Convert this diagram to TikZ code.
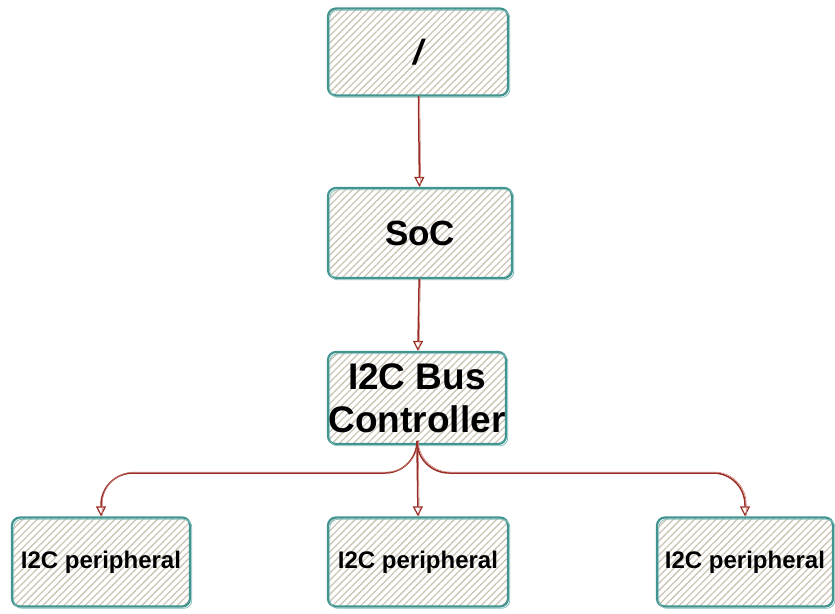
\documentclass[tikz,border=0pt]{standalone}
\usepackage{fontspec}
\setmainfont{Liberation Sans}
\usetikzlibrary{arrows.meta,patterns.meta}

\definecolor{boxedge}{RGB}{66,148,144}
\definecolor{boxedgelight}{RGB}{130,190,186}
\definecolor{hatch}{RGB}{205,196,182}
\definecolor{wire}{RGB}{152,45,38}
\definecolor{wirelight}{RGB}{200,120,110}

\tikzset{
  sketchbox/.style={
    rounded corners=8pt, line width=2.2pt, draw=boxedge,
    pattern={Lines[angle=45,distance=5pt,line width=1.3pt]},
    pattern color=hatch,
    inner sep=0pt, align=center, font=\bfseries,
    postaction={draw=boxedgelight, line width=0.8pt,
      transform canvas={shift={(1.8pt,-1.8pt)}}}
  },
  bigtext/.style={font=\bfseries\fontsize{35}{42}\selectfont},
  smalltext/.style={font=\bfseries\fontsize{24}{28}\selectfont},
  link/.style={draw=wire, line width=1.5pt,
    -{Triangle[open,length=10pt,width=10pt,line width=1.2pt]},
    postaction={draw=wirelight, line width=0.6pt, -,
      transform canvas={shift={(1.2pt,0.9pt)}}}}
}

\begin{document}
\begin{tikzpicture}[x=1pt,y=-1pt]
  \useasboundingbox (0,0) rectangle (835,613);

  % boxes
  \node[sketchbox, minimum width=180pt, minimum height=87pt,
        font=\bfseries\itshape\fontsize{35}{42}\selectfont] (top) at (418,52) {/};
  \node[sketchbox, minimum width=184pt, minimum height=90pt, bigtext] (soc) at (420,233) {SoC};
  \node[sketchbox, minimum width=178pt, minimum height=92pt,
        font=\bfseries\fontsize{37}{43}\selectfont] (ctrl) at (417,398) {I2C Bus\\Controller};
  \node[sketchbox, minimum width=178pt, minimum height=89pt, smalltext] (p1) at (101,562) {I2C peripheral};
  \node[sketchbox, minimum width=180pt, minimum height=89pt, smalltext] (p2) at (418,562) {I2C peripheral};
  \node[sketchbox, minimum width=176pt, minimum height=89pt, smalltext] (p3) at (745,562) {I2C peripheral};

  % level of the horizontal bus run
  \coordinate (bus) at (0,473);

  % connectors
  \draw[link] (top) -- (soc);
  \draw[link] (soc) -- (ctrl);
  \draw[link] (ctrl.south) -- (p2.north);
  \draw[link, rounded corners=32pt] (ctrl.south) |- (p1.north |- bus) -- (p1.north);
  \draw[link, rounded corners=32pt] (ctrl.south) |- (p3.north |- bus) -- (p3.north);
\end{tikzpicture}
\end{document}
